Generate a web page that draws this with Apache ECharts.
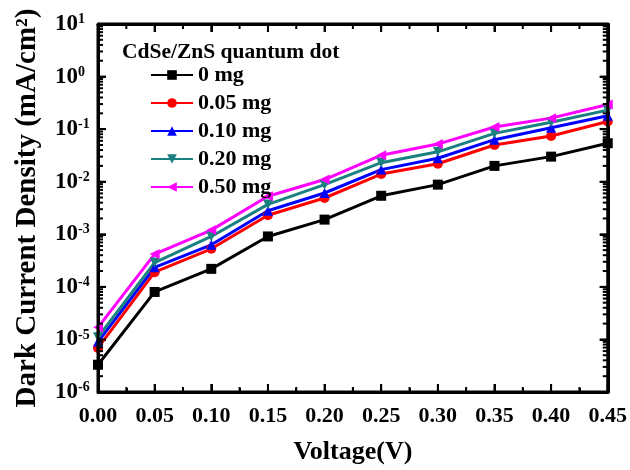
<!DOCTYPE html>
<html>
<head>
<meta charset="utf-8">
<script src="https://cdn.jsdelivr.net/npm/echarts@6/dist/echarts.min.js"></script>
<style>
  html, body { margin: 0; padding: 0; background: #fff; }
  #chart { width: 630px; height: 470px; }
</style>
</head>
<body>
<div id="chart"></div>
<script>
// Bias voltage (V)
const voltages = [0.00, 0.05, 0.10, 0.15, 0.20, 0.25, 0.30, 0.35, 0.40, 0.45];

// Dark current density (mA/cm^2) per CdSe/ZnS quantum dot loading
const mg0   = [3.3e-6, 8.0e-5, 2.2e-4, 9.1e-4, 1.9e-3, 5.4e-3, 8.8e-3, 0.020, 0.030, 0.054];
const mg005 = [6.9e-6, 1.9e-4, 5.3e-4, 2.3e-3, 4.9e-3, 0.014, 0.022, 0.050, 0.074, 0.14];
const mg010 = [9.0e-6, 2.35e-4, 6.3e-4, 2.8e-3, 6.1e-3, 0.017, 0.028, 0.063, 0.106, 0.18];
const mg020 = [1.1e-5, 2.9e-4, 9.1e-4, 3.7e-3, 8.8e-3, 0.023, 0.037, 0.083, 0.135, 0.23];
const mg050 = [1.7e-5, 4.2e-4, 1.2e-3, 5.3e-3, 0.011, 0.032, 0.052, 0.11, 0.162, 0.295];

const seriesNames = ['0 mg', '0.05 mg', '0.10 mg', '0.20 mg', '0.50 mg'];
const seriesColors = ['#000000', '#ff0000', '#0000ff', '#1b8080', '#ff00ff'];

// Axis ranges
const xMin = 0, xMax = 0.45, xStep = 0.05;
const yMin = 1e-6, yMax = 10;

// Tick values: decades and 2..9 x 10^n on the log axis, half steps on the voltage axis
const decadeValues = [];
const minorValues = [];
for (let e = -6; e <= 1; e++) decadeValues.push(Math.pow(10, e));
for (let e = -6; e < 1; e++) {
  for (let m = 2; m <= 9; m++) minorValues.push(m * Math.pow(10, e));
}
const xHalfValues = voltages.slice(1).map((v, i) => (v + voltages[i]) / 2);

const FONT = '"Liberation Serif", "Times New Roman", serif';
const AXIS_W = 3;

function pair(arr) { return voltages.map((v, i) => [v, arr[i]]); }

function lineSeries(name, data, color, symbol, rotate) {
  return {
    name: name,
    type: 'line',
    data: pair(data),
    symbol: symbol,
    symbolSize: 10,
    symbolRotate: rotate || 0,
    lineStyle: { color: color, width: 3 },
    itemStyle: { color: color },
    emphasis: { disabled: true }
  };
}

// Tick marks on all four frame edges: [x, y, side, isMajor]
// side: 0 bottom, 1 top, 2 left, 3 right
const tickItems = [];
voltages.forEach(v => { tickItems.push([v, yMin, 0, 1]); tickItems.push([v, yMax, 1, 1]); });
xHalfValues.forEach(v => { tickItems.push([v, yMin, 0, 0]); tickItems.push([v, yMax, 1, 0]); });
decadeValues.forEach(v => { tickItems.push([xMin, v, 2, 1]); tickItems.push([xMax, v, 3, 1]); });
minorValues.forEach(v => { tickItems.push([xMin, v, 2, 0]); tickItems.push([xMax, v, 3, 0]); });

const tickSeries = {
  type: 'custom',
  silent: true,
  clip: false,
  z: 6,
  data: tickItems,
  renderItem: function (params, api) {
    const p = api.coord([api.value(0), api.value(1)]);
    const side = api.value(2);
    const len = api.value(3) ? 8 : 5;
    const d = [[0, -len], [0, len], [len, 0], [-len, 0]][side];
    return {
      type: 'polyline',
      shape: { points: [[p[0], p[1]], [p[0] + d[0], p[1] + d[1]]] },
      style: { stroke: '#000', lineWidth: 2, fill: null }
    };
  }
};

// Closed outline along the axis extents
const frameSeries = {
  type: 'line',
  silent: true,
  clip: false,
  symbol: 'none',
  z: 6,
  data: [[xMin, yMin], [xMax, yMin], [xMax, yMax], [xMin, yMax], [xMin, yMin]],
  lineStyle: { color: '#000', width: AXIS_W },
  emphasis: { disabled: true }
};

function frameLine() { return { show: true, onZero: false, lineStyle: { color: '#000', width: AXIS_W } }; }
function majorTick() { return { show: true, inside: true, length: 8, lineStyle: { color: '#000', width: 2 } }; }
function halfTick() { return { show: true, splitNumber: 2, length: 4, lineStyle: { color: '#000', width: 2 } }; }

const yLabelRich = {
  b: { fontFamily: FONT, fontWeight: 'bold', fontSize: 23, color: '#000' },
  s: { fontFamily: FONT, fontWeight: 'bold', fontSize: 14, color: '#000', verticalAlign: 'top' }
};

const chart = echarts.init(document.getElementById('chart'));

chart.setOption({
  animation: false,
  backgroundColor: '#ffffff',
  grid: { left: 98, right: 22, top: 24, bottom: 67 },
  legend: {
    data: seriesNames,
    orient: 'vertical',
    left: 145,
    top: 59,
    itemWidth: 42,
    itemHeight: 12,
    itemGap: 6,
    textStyle: { fontFamily: FONT, fontWeight: 'bold', fontSize: 22, color: '#000' }
  },
  title: {
    text: 'CdSe/ZnS quantum dot',
    left: 117,
    top: 36,
    textStyle: { fontFamily: FONT, fontWeight: 'bold', fontSize: 21.5, color: '#000' }
  },
  xAxis: [
    {
      type: 'value',
      min: xMin, max: xMax, interval: xStep,
      name: 'Voltage(V)',
      nameLocation: 'middle',
      nameGap: 47,
      nameTextStyle: { fontFamily: FONT, fontWeight: 'bold', fontSize: 26, color: '#000' },
      axisLine: frameLine(),
      axisTick: majorTick(),
      minorTick: halfTick(),
      axisLabel: {
        margin: 13,
        fontFamily: FONT, fontWeight: 'bold', fontSize: 22, color: '#000',
        formatter: v => (+v).toFixed(2)
      },
      splitLine: { show: false }
    },
    {
      type: 'value',
      position: 'top',
      min: xMin, max: xMax, interval: xStep,
      axisLine: frameLine(),
      axisTick: majorTick(),
      axisLabel: { show: false },
      splitLine: { show: false }
    }
  ],
  yAxis: [
    {
      type: 'log',
      min: yMin, max: yMax,
      splitNumber: 7,
      name: 'Dark Current Density (mA/cm²)',
      nameLocation: 'middle',
      nameGap: 56,
      nameTextStyle: { fontFamily: FONT, fontWeight: 'bold', fontSize: 29, color: '#000' },
      axisLine: frameLine(),
      axisTick: majorTick(),
      axisLabel: {
        margin: 43,
        align: 'left',
        formatter: v => '{b|10}{s|' + Math.round(Math.log10(+v)) + '}',
        rich: yLabelRich
      },
      splitLine: { show: false }
    },
    {
      type: 'log',
      position: 'right',
      min: yMin, max: yMax,
      splitNumber: 7,
      axisLine: frameLine(),
      axisTick: majorTick(),
      axisLabel: { show: false },
      splitLine: { show: false }
    }
  ],
  series: [
    lineSeries(seriesNames[0], mg0,   seriesColors[0], 'rect'),
    lineSeries(seriesNames[1], mg005, seriesColors[1], 'circle'),
    lineSeries(seriesNames[2], mg010, seriesColors[2], 'triangle'),
    lineSeries(seriesNames[3], mg020, seriesColors[3], 'triangle', 180),
    lineSeries(seriesNames[4], mg050, seriesColors[4], 'triangle', 90),
    frameSeries,
    tickSeries
  ]
});
</script>
</body>
</html>
